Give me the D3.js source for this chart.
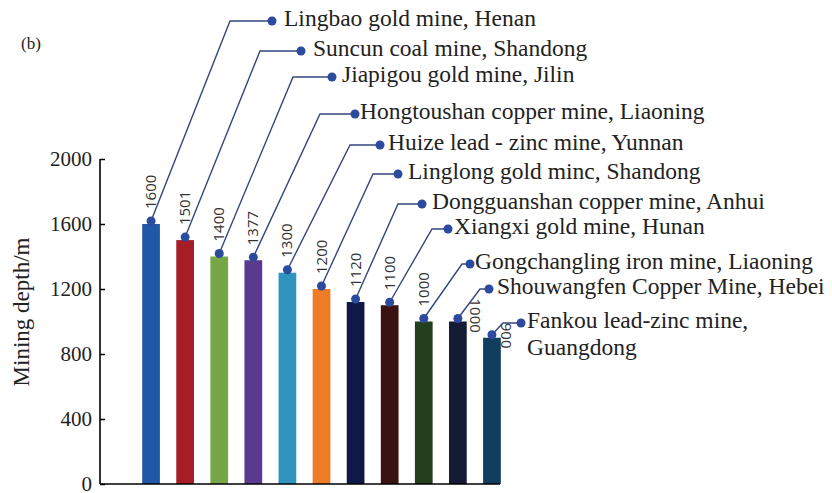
<!DOCTYPE html>
<html><head><meta charset="utf-8">
<script src="https://cdn.jsdelivr.net/npm/d3@7"></script>
<style>html,body{margin:0;padding:0;background:#fff;}svg{display:block;}</style>
</head><body>
<svg id="chart" width="832" height="493"></svg>
<script>
// ---- data ----
const mines = [
  "Lingbao gold mine, Henan",
  "Suncun coal mine, Shandong",
  "Jiapigou gold mine, Jilin",
  "Hongtoushan copper mine, Liaoning",
  "Huize lead - zinc mine, Yunnan",
  "Linglong gold minc, Shandong",
  "Dongguanshan copper mine, Anhui",
  "Xiangxi gold mine, Hunan",
  "Gongchangling iron mine, Liaoning",
  "Shouwangfen Copper Mine, Hebei",
  "Fankou lead-zinc mine,|Guangdong"
];
const depths = [1600, 1501, 1400, 1377, 1300, 1200, 1120, 1100, 1000, 1000, 900];
const valueLabels = ["1600", "1501", "1400", "1377", "1300", "1200", "1120", "1100", "1000", "1000", "900"];
const yTicks = [0, 400, 800, 1200, 1600, 2000];

// ---- style / layout ----
const serif = "'Liberation Serif', 'Times New Roman', serif";
const sans = "'Open Sans', 'Liberation Sans', sans-serif";
const barColors = ["#1f58a6", "#a61e25", "#77a647", "#5a3a8e", "#2f95be", "#ee7b25",
                   "#10184a", "#3b1212", "#233f1e", "#151a35", "#113d5f"];
// callout layout: [elbow x, label dot x, label y, text x]
const callout = [
  [230, 272, 21, 284], [260, 301, 51, 313], [293, 332, 77, 342], [320, 355, 114, 360],
  [350, 380, 145, 388], [373, 398, 174, 408], [398, 422, 204, 432], [432, 448, 229, 454],
  [462, 470, 264, 475], [480, 489, 289, 497], [503, 521, 323, 527]
];

const svg = d3.select("#chart");
const y = d3.scaleLinear().domain([0, 2000]).range([484, 159]);
const x = d3.scaleBand().domain(d3.range(mines.length)).range([134, 509])
  .paddingInner(0.48).paddingOuter(0.24);

// bars
svg.append("g").selectAll("rect").data(depths).join("rect")
  .attr("x", (d, i) => x(i))
  .attr("width", x.bandwidth())
  .attr("y", d => y(d))
  .attr("height", d => y(0) - y(d))
  .attr("fill", (d, i) => barColors[i]);

// axes
const yAxis = d3.axisLeft(y).tickValues(yTicks).tickSize(-5).tickPadding(8).tickFormat(d3.format("d"));
const gy = svg.append("g").attr("transform", "translate(100,0)").call(yAxis);
gy.select(".domain").remove();
gy.selectAll(".tick line").attr("stroke", "#000").attr("stroke-width", 1.5);
gy.selectAll(".tick text").attr("font-family", serif)
  .attr("font-size", 21).attr("fill", "#222");
svg.append("line").attr("x1", 100).attr("x2", 100).attr("y1", y(2000)).attr("y2", y(0))
  .attr("stroke", "#000").attr("stroke-width", 1.6);
svg.append("line").attr("x1", 100).attr("x2", 500).attr("y1", y(0)).attr("y2", y(0))
  .attr("stroke", "#000").attr("stroke-width", 1.6);

// axis title
svg.append("text").attr("transform", "translate(29,312) rotate(-90)")
  .attr("text-anchor", "middle")
  .attr("font-family", serif)
  .attr("font-size", 23).attr("fill", "#222").text("Mining depth/m");

svg.append("text").attr("x", 21).attr("y", 49)
  .attr("font-family", serif)
  .attr("font-size", 17).attr("fill", "#222").text("(b)");

// callouts
const lineColor = "#34467c", dotColor = "#2c4a9e";
const cg = svg.append("g");
depths.forEach((d, i) => {
  const cx = x(i) + x.bandwidth() / 2;
  const cy = y(d) - 3;
  const [ex, dx, ly, tx] = callout[i];
  cg.append("polyline")
    .attr("points", `${cx},${cy} ${ex},${ly} ${dx},${ly}`)
    .attr("fill", "none").attr("stroke", lineColor).attr("stroke-width", 1.4);
  cg.append("circle").attr("cx", cx).attr("cy", cy).attr("r", 4.5).attr("fill", dotColor);
  cg.append("circle").attr("cx", dx).attr("cy", ly).attr("r", 4.5).attr("fill", dotColor);
  const lines = mines[i].split("|");
  lines.forEach((t, k) => {
    cg.append("text").attr("x", tx).attr("y", ly + k * 27)
      .attr("dy", "0.23em")
      .attr("font-family", serif)
      .attr("font-size", 23.5).attr("fill", "#222").text(t);
  });
});

// value labels
depths.forEach((d, i) => {
  const cx = x(i) + x.bandwidth() / 2;
  const g = svg.append("g");
  if (i < 9) {
    g.attr("transform", `translate(${cx + 5},${y(d) - 15}) rotate(-90)`);
  } else {
    g.attr("transform", `translate(${x(i) + x.bandwidth() + (i === 9 ? 3 : 0)},${y(d) - (i === 9 ? 23 : 15)}) rotate(90)`);
  }
  g.append("text").attr("text-anchor", "start")
    .attr("font-family", sans)
    .attr("font-size", 15).attr("fill", "#333").text(valueLabels[i]);
});
</script>
</body></html>
